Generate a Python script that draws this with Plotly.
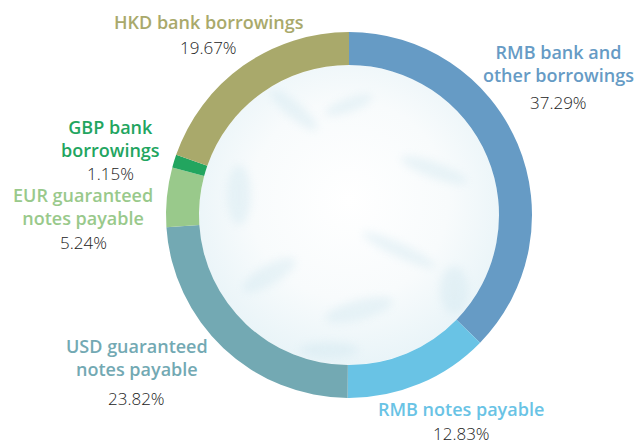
import plotly.graph_objects as go

# Funding mix by borrowing type (share of total, %)
categories = [
    "RMB bank and<br>other borrowings",
    "RMB notes payable",
    "USD guaranteed<br>notes payable",
    "EUR guaranteed<br>notes payable",
    "GBP bank<br>borrowings",
    "HKD bank borrowings",
]
shares = [37.29, 12.83, 23.82, 5.24, 1.15, 19.67]
colors = ["#669bc5", "#69c3e5", "#73a9b3", "#99c98b", "#22a55f", "#a9a96b"]

# label anchor (paper coords) for each category: name block, then percentage
name_pos = [(0.877, 0.857), (0.724, 0.082), (0.215, 0.196), (0.131, 0.535), (0.174, 0.688), (0.328, 0.951)]
pct_pos = [(0.877, 0.770), (0.724, 0.026), (0.215, 0.105), (0.131, 0.455), (0.174, 0.609), (0.328, 0.893)]

W, H = 637, 445
cx, cy, R, r_in = 349, 215, 183, 150

fig = go.Figure()
fig.add_trace(go.Pie(
    labels=categories,
    values=shares,
    sort=False,
    direction="clockwise",
    rotation=0,
    hole=r_in / R,
    marker=dict(colors=colors, line=dict(width=0)),
    textinfo="none",
    hoverinfo="label+percent",
    showlegend=False,
    domain=dict(x=[(cx - R) / W, (cx + R) / W], y=[1 - (cy + R) / H, 1 - (cy - R) / H]),
))

# soft watery fill inside the ring
svg = (
    "<svg xmlns='http://www.w3.org/2000/svg' width='300' height='300'>"
    "<defs><radialGradient id='g' cx='50%' cy='45%' r='55%'>"
    "<stop offset='0' stop-color='#ffffff'/><stop offset='0.6' stop-color='#f8fbfc'/>"
    "<stop offset='1' stop-color='#e9f4f8'/></radialGradient>"
    "<filter id='b'><feGaussianBlur stdDeviation='4'/></filter></defs>"
    "<circle cx='150' cy='150' r='150' fill='url(#g)'/>"
    "<g filter='url(#b)' fill='#cfe6ef' opacity='0.4'>"
    "<ellipse cx='95' cy='45' rx='30' ry='8' transform='rotate(40 95 45)'/>"
    "<ellipse cx='150' cy='40' rx='25' ry='7' transform='rotate(-20 150 40)'/>"
    "<ellipse cx='235' cy='105' rx='35' ry='8' transform='rotate(20 235 105)'/>"
    "<ellipse cx='40' cy='130' rx='12' ry='30'/>"
    "<ellipse cx='70' cy='210' rx='30' ry='10' transform='rotate(-30 70 210)'/>"
    "<ellipse cx='160' cy='245' rx='35' ry='10' transform='rotate(-15 160 245)'/>"
    "<ellipse cx='130' cy='285' rx='30' ry='8'/>"
    "<ellipse cx='255' cy='225' rx='14' ry='24'/>"
    "<ellipse cx='200' cy='185' rx='40' ry='7' transform='rotate(25 200 185)'/>"
    "</g></svg>"
).replace("#", "%23")
fig.add_layout_image(dict(
    source="data:image/svg+xml;utf8," + svg,
    xref="paper", yref="paper",
    x=(cx - r_in) / W, y=1 - (cy - r_in) / H,
    sizex=2 * r_in / W, sizey=2 * r_in / H,
    sizing="stretch", xanchor="left", yanchor="top", layer="below",
))

for name, val, col, (nx, ny), (px, py) in zip(categories, shares, colors, name_pos, pct_pos):
    fig.add_annotation(
        x=nx, y=ny, xref="paper", yref="paper", text=name, showarrow=False,
        xanchor="center", yanchor="middle", align="center", borderpad=0,
        font=dict(family="Open Sans", size=18, color=col, weight=600),
    )
    fig.add_annotation(
        x=px, y=py, xref="paper", yref="paper", text=f"{val:.2f}%", showarrow=False,
        xanchor="center", yanchor="middle", borderpad=0,
        font=dict(family="Open Sans", size=17, color="#222222", weight=300),
    )

fig.update_layout(
    width=W, height=H,
    margin=dict(l=0, r=0, t=0, b=0),
    paper_bgcolor="white", plot_bgcolor="white",
)
fig.write_html("out.html")
